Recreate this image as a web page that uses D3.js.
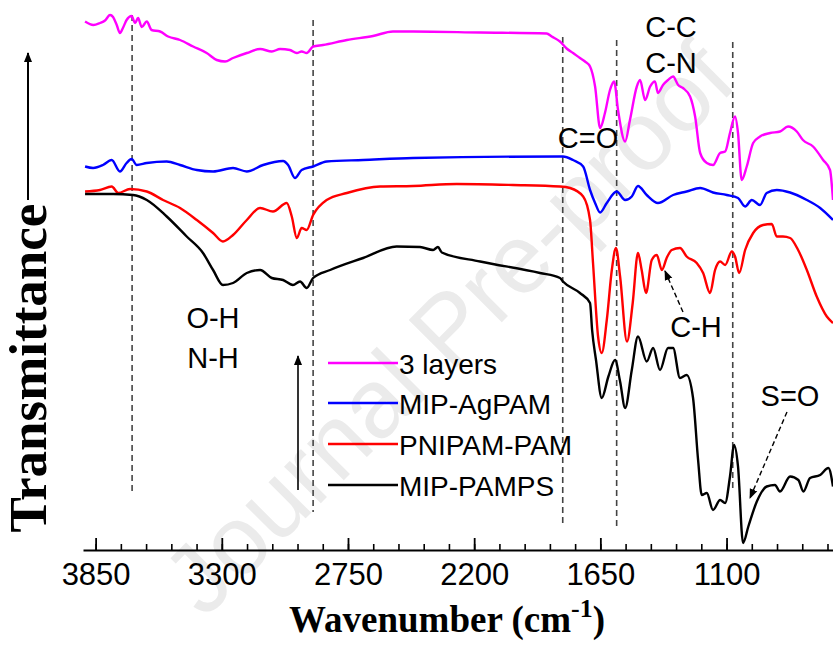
<!DOCTYPE html>
<html>
<head>
<meta charset="utf-8">
<script src="https://cdn.jsdelivr.net/npm/d3@7"></script>
<style>
  html, body { margin: 0; padding: 0; background: #fff; }
  svg { display: block; }
</style>
</head>
<body>
<svg id="chart" width="833" height="646"></svg>
<script>
// ---------------- DATA (wavenumber cm^-1, transmittance a.u.) ----------------
const seriesNames = ["3 layers", "MIP-AgPAM", "PNIPAM-PAM", "MIP-PAMPS"];
const seriesColors = ["#ff00ff", "#0000ff", "#ff0000", "#000000"];

const layers3 = [
  [3896,105.7],[3860,105.0],[3831,105.4],[3809,105.9],[3787,107.0],[3774,106.6],[3758,105.0],[3744,103.4],
  [3731,104.4],[3715,106.0],[3693,106.8],[3678,105.4],[3665,106.4],[3649,104.6],[3627,105.7],[3606,104.0],
  [3569,103.7],[3534,102.7],[3482,102.0],[3425,100.7],[3366,99.4],[3322,98.0],[3286,97.7],[3251,98.4],
  [3191,99.4],[3133,100.2],[3082,99.7],[3046,100.2],[3003,100.0],[2973,99.4],[2952,99.7],[2930,99.4],
  [2902,100.7],[2859,101.0],[2755,102.0],[2641,102.8],[2554,103.7],[2466,103.7],[2174,103.5],[1884,103.3],
  [1862,102.7],[1826,101.7],[1797,100.3],[1769,99.4],[1739,98.4],[1717,97.7],[1695,96.7],[1673,92.7],
  [1651,84.4],[1630,87.4],[1608,92.0],[1590,93.7],[1573,88.0],[1542,81.7],[1521,86.0],[1491,92.7],
  [1477,94.0],[1455,90.0],[1433,92.7],[1412,93.7],[1399,91.4],[1377,93.0],[1355,94.0],[1333,94.7],
  [1311,93.0],[1290,92.4],[1259,90.7],[1237,86.7],[1215,79.4],[1186,77.4],[1159,77.0],[1128,79.4],
  [1106,79.7],[1085,83.4],[1063,86.7],[1050,83.4],[1034,74.0],[1012,76.7],[984,81.4],[954,82.7],
  [910,83.4],[867,83.7],[832,84.7],[794,83.7],[767,82.0],[723,80.7],[679,78.0],[649,76.0],[636,70.0]
];

const mipAgPAM = [
  [3896,76.7],[3861,76.4],[3818,77.0],[3780,78.0],[3744,75.7],[3715,77.4],[3693,78.2],[3671,77.0],
  [3627,77.4],[3540,77.7],[3482,77.0],[3409,76.0],[3338,75.7],[3251,76.4],[3191,75.7],[3120,77.0],
  [3033,77.8],[3011,77.0],[2981,74.4],[2952,76.0],[2902,76.7],[2843,77.7],[2684,78.0],[2466,78.4],
  [1826,78.7],[1813,78.7],[1769,78.0],[1725,76.7],[1695,72.0],[1673,69.4],[1651,67.5],[1622,69.4],
  [1579,71.7],[1542,70.0],[1513,70.7],[1486,72.8],[1448,71.0],[1399,69.4],[1333,71.0],[1274,71.7],
  [1215,72.4],[1159,71.5],[1099,71.0],[1050,70.4],[1019,68.7],[990,70.0],[954,69.0],[925,71.4],
  [881,72.0],[823,71.5],[750,70.0],[692,68.4],[636,66.0]
];

const pnipamPAM = [
  [3896,71.7],[3831,72.0],[3780,72.7],[3751,71.4],[3700,72.2],[3627,71.7],[3556,70.0],[3482,68.4],
  [3409,66.0],[3338,63.4],[3295,61.7],[3251,63.0],[3191,66.0],[3133,68.4],[3077,67.7],[3017,69.4],
  [2995,66.7],[2973,62.4],[2952,64.4],[2930,64.0],[2902,67.0],[2843,70.0],[2755,71.4],[2610,72.7],
  [2466,72.8],[2276,73.2],[2031,73.0],[1826,72.7],[1782,72.4],[1725,70.7],[1695,66.0],[1682,57.4],
  [1660,42.7],[1644,39.4],[1622,46.0],[1600,56.0],[1582,60.4],[1564,54.7],[1534,41.7],[1509,49.4],
  [1486,59.4],[1470,56.0],[1451,51.4],[1426,58.0],[1404,59.0],[1382,56.0],[1361,58.4],[1339,60.0],
  [1303,60.4],[1274,58.7],[1230,57.4],[1202,55.4],[1172,51.4],[1150,56.0],[1128,57.7],[1106,57.0],
  [1077,59.7],[1063,58.7],[1045,55.4],[1019,60.0],[984,63.4],[941,65.0],[903,65.2],[881,62.7],
  [854,62.7],[823,62.4],[788,60.0],[750,56.0],[707,50.7],[663,46.7],[636,45.4]
];

const mipPAMPS = [
  [3896,71.2],[3774,71.2],[3687,71.0],[3627,70.0],[3540,66.7],[3453,62.7],[3382,59.4],[3338,56.0],
  [3295,53.0],[3251,53.4],[3191,55.4],[3133,56.0],[3082,54.4],[3033,54.0],[2990,53.0],[2959,53.7],
  [2930,52.4],[2902,54.4],[2828,56.0],[2684,58.4],[2538,60.7],[2436,60.6],[2379,60.0],[2358,60.6],
  [2341,59.5],[2174,57.7],[1913,55.4],[1826,54.4],[1813,53.7],[1739,51.4],[1695,49.4],[1686,44.0],
  [1669,38.0],[1644,30.4],[1615,34.7],[1586,38.0],[1564,33.7],[1542,28.4],[1513,36.0],[1486,42.7],
  [1448,37.7],[1420,40.4],[1390,36.0],[1355,40.4],[1333,40.4],[1303,34.4],[1274,35.0],[1246,30.4],
  [1224,18.0],[1208,11.0],[1186,11.4],[1159,8.0],[1128,10.0],[1106,9.4],[1085,14.7],[1067,21.0],
  [1050,16.7],[1028,1.4],[1005,4.7],[968,9.7],[925,12.7],[889,13.0],[867,11.7],[823,14.7],
  [787,14.0],[765,11.7],[736,14.4],[692,15.0],[656,16.4],[636,12.7]
];

const allSeries = [layers3, mipAgPAM, pnipamPAM, mipPAMPS];

// axis ticks
const majorTicks = [3850, 3300, 2750, 2200, 1650, 1100];
const minorTicks = d3.range(3850, 630, -110);

// reference (dashed) wavenumbers
const markerWavenumbers = [3691, 2902, 1814, 1579, 1073];

// ---------------- LAYOUT ----------------
const svg = d3.select("#chart");
const x = d3.scaleLinear().domain([3905, 636]).range([83, 833]);
const y = d3.scaleLinear().domain([0, 110]).range([550, 0]);

const sansFont = "'Liberation Sans', Arial, Helvetica, sans-serif";
const serifFont = "'Liberation Serif', 'Times New Roman', serif";

// watermark
svg.append("text")
  .attr("transform", "translate(472,352) rotate(-45)")
  .attr("text-anchor", "middle")
  .attr("font-family", sansFont)
  .attr("font-size", 98)
  .attr("fill", "#ebebeb")
  .text("Journal Pre-proof");

// defs
const defs = svg.append("defs");
defs.append("clipPath").attr("id", "plotclip")
  .append("rect").attr("x", 83).attr("y", 0).attr("width", 750).attr("height", 552);
defs.append("marker").attr("id", "arrowhead")
  .attr("viewBox", "0 0 10 10").attr("refX", 9).attr("refY", 5)
  .attr("markerWidth", 10).attr("markerHeight", 10)
  .attr("markerUnits", "userSpaceOnUse")
  .attr("orient", "auto")
  .append("path").attr("d", "M0,1 L10,5 L0,9 Z").attr("fill", "#000");
defs.append("marker").attr("id", "arrowheadBig")
  .attr("viewBox", "0 0 10 10").attr("refX", 9).attr("refY", 5)
  .attr("markerWidth", 14).attr("markerHeight", 10)
  .attr("markerUnits", "userSpaceOnUse")
  .attr("orient", "auto")
  .append("path").attr("d", "M0,1 L10,5 L0,9 Z").attr("fill", "#000");

// dashed reference lines
const markerExtents = [[15, 493], [20, 512], [37, 525], [40, 527], [42, 490]];
svg.append("g").selectAll("line").data(markerWavenumbers).join("line")
  .attr("x1", d => x(d)).attr("x2", d => x(d))
  .attr("y1", (d, i) => markerExtents[i][0]).attr("y2", (d, i) => markerExtents[i][1])
  .attr("stroke", "#444").attr("stroke-width", 1.6)
  .attr("stroke-dasharray", "6,4");

// spectra
const line = d3.line().x(d => x(d[0])).y(d => y(d[1])).curve(d3.curveMonotoneX);
svg.append("g").attr("clip-path", "url(#plotclip)")
  .selectAll("path").data(allSeries).join("path")
  .attr("d", d => line(d))
  .attr("fill", "none")
  .attr("stroke", (d, i) => seriesColors[i])
  .attr("stroke-width", 2.4)
  .attr("stroke-linejoin", "round");

// x axis
const axisG = svg.append("g").attr("transform", "translate(0,550)");
axisG.call(d3.axisBottom(x).tickValues(minorTicks).tickSize(-6).tickSizeOuter(0).tickFormat(""));
axisG.selectAll("path.domain").attr("stroke", "#000").attr("stroke-width", 2.2);
axisG.selectAll(".tick line").attr("stroke", "#000").attr("stroke-width", 1.6);
const majorG = svg.append("g").attr("transform", "translate(0,550)");
majorG.call(d3.axisBottom(x).tickValues(majorTicks).tickSize(-12).tickSizeOuter(0).tickPadding(13).tickFormat(d3.format("d")));
majorG.select("path.domain").remove();
majorG.selectAll(".tick line").attr("stroke", "#000").attr("stroke-width", 1.8);
majorG.selectAll(".tick text").attr("font-family", sansFont).attr("font-size", 31).attr("fill", "#000");

// x axis title
const xt = svg.append("text")
  .attr("x", 447).attr("y", 632)
  .attr("text-anchor", "middle")
  .attr("font-family", serifFont).attr("font-weight", "bold")
  .attr("font-size", 37).attr("fill", "#000");
xt.append("tspan").text("Wavenumber (cm");
xt.append("tspan").attr("dy", -15).attr("font-size", 26).text("-1");
xt.append("tspan").attr("dy", 15).text(")");

// y axis title with arrow
svg.append("text")
  .attr("transform", "translate(46,368) rotate(-90)")
  .attr("text-anchor", "middle")
  .attr("font-family", serifFont).attr("font-weight", "bold")
  .attr("font-size", 53).attr("fill", "#000")
  .text("Transmittance");
svg.append("line")
  .attr("x1", 28).attr("x2", 28).attr("y1", 200).attr("y2", 53)
  .attr("stroke", "#000").attr("stroke-width", 2)
  .attr("marker-end", "url(#arrowheadBig)");

// annotations
const annotations = [
  {t: "O-H", x: 213, y: 328},
  {t: "N-H", x: 213, y: 368},
  {t: "C-C", x: 671, y: 37},
  {t: "C-N", x: 671, y: 73},
  {t: "C=O", x: 588, y: 148},
  {t: "C-H", x: 696, y: 337},
  {t: "S=O", x: 790, y: 406}
];
svg.append("g").selectAll("text").data(annotations).join("text")
  .attr("x", d => d.x).attr("y", d => d.y)
  .attr("text-anchor", "middle")
  .attr("font-family", sansFont).attr("font-size", 29).attr("fill", "#000")
  .text(d => d.t);

// arrows
svg.append("line").attr("x1", 298).attr("y1", 490).attr("x2", 298).attr("y2", 356)
  .attr("stroke", "#000").attr("stroke-width", 1.6).attr("marker-end", "url(#arrowhead)");
svg.append("line").attr("x1", 683).attr("y1", 312).attr("x2", 665).attr("y2", 271)
  .attr("stroke", "#000").attr("stroke-width", 1.4).attr("stroke-dasharray", "5,3")
  .attr("marker-end", "url(#arrowhead)");
svg.append("line").attr("x1", 787).attr("y1", 412).attr("x2", 750).attr("y2", 498)
  .attr("stroke", "#000").attr("stroke-width", 1.4).attr("stroke-dasharray", "5,3")
  .attr("marker-end", "url(#arrowhead)");

// legend
const legendY = [363, 403, 444, 485];
const leg = svg.append("g").selectAll("g").data(seriesNames).join("g")
  .attr("transform", (d, i) => `translate(328,${legendY[i]})`);
leg.append("line").attr("x1", 0).attr("x2", 70).attr("y1", 0).attr("y2", 0)
  .attr("stroke", (d, i) => seriesColors[i]).attr("stroke-width", 2.5);
leg.append("text").attr("x", 71).attr("y", 11)
  .attr("font-family", sansFont).attr("font-size", 28).attr("fill", "#000")
  .text(d => d);
</script>
</body>
</html>
